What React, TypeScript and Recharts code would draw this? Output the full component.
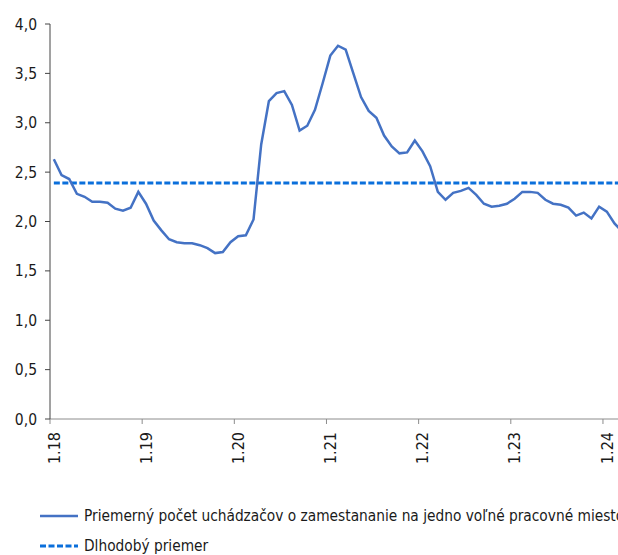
import React from 'react';
import { LineChart, Line, XAxis, YAxis } from 'recharts';

// Priemerný počet uchádzačov na jedno voľné miesto, mesačne od 1.2018 do 3.2024
const ratio = [
  2.63, 2.47, 2.43, 2.28, 2.25, 2.2, 2.2, 2.19, 2.13, 2.11, 2.14, 2.3,
  2.18, 2.01, 1.91, 1.82, 1.79, 1.78, 1.78, 1.76, 1.73, 1.68, 1.69, 1.79,
  1.85, 1.86, 2.02, 2.78, 3.22, 3.3, 3.32, 3.18, 2.92, 2.97, 3.13, 3.4,
  3.68, 3.78, 3.74, 3.5, 3.26, 3.12, 3.05, 2.87, 2.76, 2.69, 2.7, 2.82,
  2.71, 2.56, 2.3, 2.22, 2.29, 2.31, 2.34, 2.27, 2.18, 2.15, 2.16, 2.18,
  2.23, 2.3, 2.3, 2.29, 2.22, 2.18, 2.17, 2.14, 2.06, 2.09, 2.03, 2.15,
  2.1, 1.98, 1.9,
];
const longTermAverage = 2.39;

const tickLabels = ['1.18', '1.19', '1.20', '1.21', '1.22', '1.23', '1.24'];
const yTicks = [0, 0.5, 1, 1.5, 2, 2.5, 3, 3.5, 4];

const seriesNames = [
  'Priemerný počet uchádzačov o zamestananie na jedno voľné pracovné miesto',
  'Dlhodobý priemer',
];

const MAIN_COLOR = '#4472C4';
const AVG_COLOR = '#0A6FDB';
const FONT = '"DejaVu Sans Condensed", "DejaVu Sans", sans-serif';

const data = ratio.map((v, i) => ({ i, ratio: v, avg: longTermAverage }));
// ticks sit between months (Excel "between tick marks")
const xTicks = tickLabels.map((_, k) => k * 12 - 0.5);

const XTick = (props: any) => {
  const { x, y, payload } = props;
  const k = Math.round((payload.value + 0.5) / 12);
  return (
    <g transform={`translate(${x},${y})`}>
      <text
        transform="rotate(-90)"
        x={-6}
        y={4}
        dy="0.35em"
        textAnchor="end"
        fill="#1a1a1a"
        fontSize={16}
        fontFamily={FONT}
      >
        {tickLabels[k]}
      </text>
    </g>
  );
};

const App: React.FC = () => {
  return (
    <div
      style={{
        position: 'absolute',
        left: 0,
        top: 0,
        width: 618,
        height: 555,
        overflow: 'hidden',
        background: '#fff',
        fontFamily: FONT,
      }}
    >
      <LineChart
        width={626}
        height={470}
        data={data}
        margin={{ top: 24, right: 0, left: 0, bottom: 0 }}
      >
        <XAxis
          dataKey="i"
          type="number"
          domain={[-0.5, 74.5]}
          ticks={xTicks}
          tick={<XTick />}
          tickSize={5}
          height={51}
          axisLine={{ stroke: '#8c8c8c' }}
          tickLine={{ stroke: '#8c8c8c' }}
          interval={0}
        />
        <YAxis
          type="number"
          domain={[0, 4]}
          ticks={yTicks}
          width={50}
          tickSize={5}
          tickMargin={8}
          axisLine={{ stroke: '#444' }}
          tickLine={{ stroke: '#444' }}
          tick={{ fill: '#1a1a1a', fontSize: 15.5, fontFamily: FONT }}
          tickFormatter={(v: number) => v.toFixed(1).replace('.', ',')}
        />
        <Line
          dataKey="avg"
          stroke={AVG_COLOR}
          strokeWidth={3}
          strokeDasharray="6 2.5"
          dot={false}
          isAnimationActive={false}
        />
        <Line
          dataKey="ratio"
          type="linear"
          stroke={MAIN_COLOR}
          strokeWidth={2.5}
          dot={false}
          isAnimationActive={false}
        />
      </LineChart>

      {/* legend */}
      <div style={{ position: 'absolute', left: 40, top: 501, fontSize: 15.3, color: '#1a1a1a', whiteSpace: 'nowrap' }}>
        {seriesNames.map((name, idx) => (
          <div key={name} style={{ display: 'flex', alignItems: 'center', height: 30 }}>
            <svg width={40} height={6} style={{ marginRight: 4 }}>
              <line
                x1={0}
                x2={38}
                y1={3}
                y2={3}
                stroke={idx === 0 ? MAIN_COLOR : AVG_COLOR}
                strokeWidth={idx === 0 ? 2.5 : 3}
                strokeDasharray={idx === 0 ? undefined : '6 2.5'}
              />
            </svg>
            <span>{name}</span>
          </div>
        ))}
      </div>
    </div>
  );
};

export default App;
